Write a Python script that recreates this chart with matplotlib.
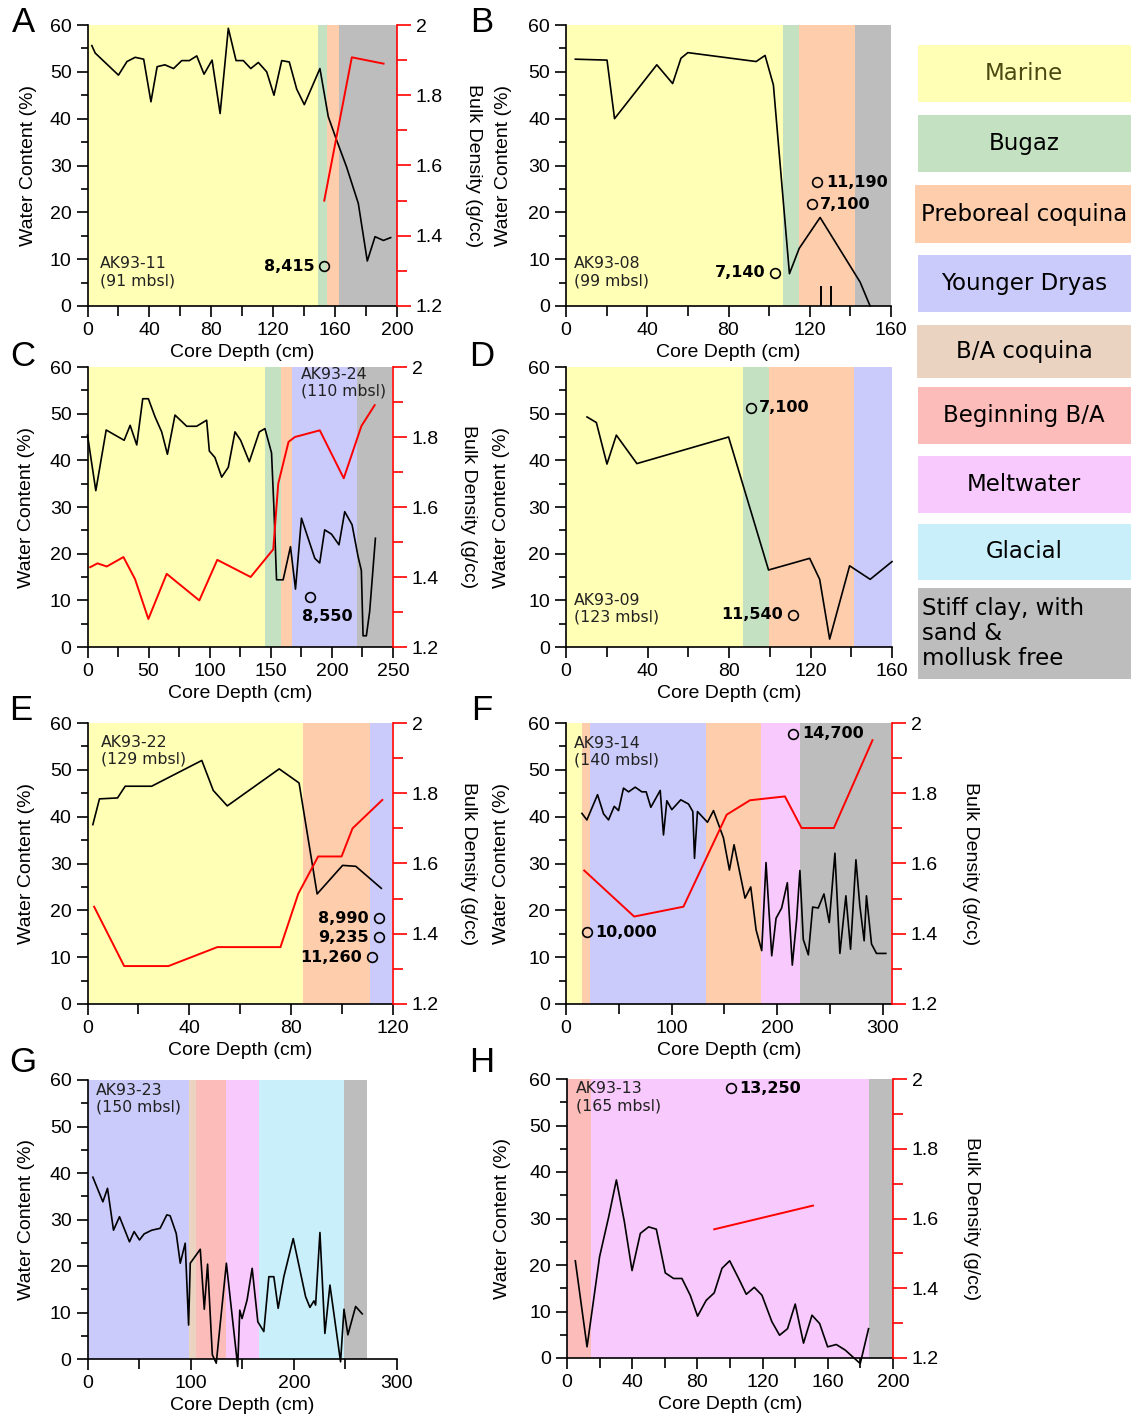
import matplotlib
matplotlib.use("Agg")
import matplotlib.pyplot as plt
from matplotlib.ticker import MultipleLocator, FuncFormatter
from matplotlib.patches import Rectangle

plt.rcParams['font.family'] = ['Liberation Sans', 'DejaVu Sans']

W, H = 1131, 1418

zone_color = {
    "Marine": "#ffffb6",
    "Bugaz": "#c4e2c2",
    "Preboreal": "#fdcdac",
    "YD": "#cbcbfb",
    "BA coquina": "#ead3c0",
    "Beginning BA": "#fbbcba",
    "Meltwater": "#f7c9fc",
    "Glacial": "#c8effa",
    "Stiff": "#bdbdbd",
}
legend_keys = ["Marine", "Bugaz", "Preboreal", "YD", "BA coquina",
               "Beginning BA", "Meltwater", "Glacial", "Stiff"]
legend_labels = ["Marine", "Bugaz", "Preboreal coquina", "Younger Dryas",
                 "B/A coquina", "Beginning B/A", "Meltwater", "Glacial",
                 "Stiff clay, with\nsand &\nmollusk free"]

# ---------------- A: AK93-11 ----------------
a_zones = [("Marine", 0, 148.8), ("Bugaz", 148.8, 155), ("Preboreal", 155, 162.6), ("Stiff", 162.6, 200)]
a_depth = [2.8, 5, 20, 25.5, 30.8, 36.3, 41, 45, 50, 55.6, 60.9, 65.8, 70.6, 75.3, 80.5, 85.7, 91, 96,
           100.7, 105.5, 110.4, 115.8, 120.5, 125.5, 130.4, 135.2, 140.1, 150.2, 155.6, 161, 167.4, 175,
           180.8, 185.8, 191.2, 195.9]
a_water = [55.6, 54, 49.3, 52.2, 53.1, 52.7, 43.6, 51.1, 51.5, 50.7, 52.4, 52.4, 53.4, 49.5, 52.5, 41.1,
           59.3, 52.4, 52.4, 50.7, 52, 50, 45, 52.4, 52.1, 46.3, 43, 50.7, 40.4, 35.4, 29.7, 21.9, 9.6,
           14.8, 14, 14.6]
a_bd_depth = [153, 170.8, 191.3]
a_bd = [1.5, 1.908, 1.89]
a_dates = [(153, 8.5, "8,415")]

# ---------------- B: AK93-08 ----------------
b_zones = [("Marine", 0, 106.7), ("Bugaz", 106.7, 114.9), ("Preboreal", 114.9, 142.3), ("Stiff", 142.3, 160)]
b_depth = [4.6, 20.2, 23.9, 44.7, 52.5, 56.6, 60, 93.6, 98, 102.1, 110, 114.8, 125.1, 144.8, 149.7]
b_water = [52.7, 52.5, 40, 51.5, 47.5, 52.9, 54.1, 52.2, 53.5, 47.2, 6.9, 12.3, 18.9, 5.1, 0]
b_marks = [125.4, 130.3]
b_mark_top = 4.2
b_dates = [(103, 7.1, "7,140"), (121, 21.7, "7,100"), (123.8, 26.4, "11,190")]

# ---------------- C: AK93-24 ----------------
c_zones = [("Marine", 0, 145.4), ("Bugaz", 145.4, 158), ("Preboreal", 158, 167.2), ("YD", 167.2, 220.6),
           ("Stiff", 220.6, 249)]
c_depth = [0, 6.8, 15.3, 22.6, 30, 34.9, 40.3, 45.2, 49.8, 55.3, 60.7, 65.4, 71.6, 81.2, 89.3, 97.5, 99.7,
           104.3, 109.8, 115.2, 120.7, 125.3, 132.4, 140.6, 145.2, 150.6, 152.5, 154.7, 160.1, 166.1, 170.2,
           175.1, 186, 190, 194.1, 199.6, 205.8, 210.5, 216.5, 221.4, 224.1, 225.5, 228.2, 230.9, 235.6]
c_water = [45.4, 33.5, 46.5, 45.4, 44.3, 47.5, 43.3, 53.2, 53.2, 49.3, 46.1, 41.3, 49.7, 47.3, 47.3, 48.6,
           42, 40.6, 36.4, 38.5, 46.1, 44.3, 39.7, 46.1, 46.8, 41.6, 30.1, 14.4, 14.4, 21.5, 12.4, 27.6,
           19, 18, 25.1, 24.2, 21.9, 29, 26.2, 19.4, 16.4, 2.4, 2.4, 7.6, 23.3]
c_bd_depth = [2.2, 8.2, 15.8, 29.4, 38.9, 49.8, 64.8, 91.5, 106.2, 133.5, 152, 156.1, 164.5, 169.7, 190.1,
              209.7, 224.1, 235]
c_bd = [1.428, 1.439, 1.43, 1.457, 1.394, 1.28, 1.409, 1.333, 1.449, 1.4, 1.479, 1.667, 1.786, 1.8, 1.819,
        1.682, 1.831, 1.891]
c_dates = [(182, 10.8, "8,550")]

# ---------------- D: AK93-09 ----------------
d_zones = [("Marine", 0, 86.9), ("Bugaz", 86.9, 99.5), ("Preboreal", 99.5, 141.2), ("YD", 141.2, 160)]
d_depth = [10.3, 14.9, 20.1, 24.7, 34.8, 79.8, 99.4, 119.6, 124.5, 129.4, 139.2, 149.3, 160]
d_water = [49.3, 48.1, 39.2, 45.4, 39.3, 45, 16.5, 19, 14.5, 1.7, 17.4, 14.5, 18.3]
d_dates = [(90.8, 51.3, "7,100"), (111.4, 6.9, "11,540")]

# ---------------- E: AK93-22 ----------------
e_zones = [("Marine", 0, 84.7), ("Preboreal", 84.7, 111.1), ("YD", 111.1, 119.6)]
e_depth = [2.1, 4.7, 11.8, 14.8, 25.2, 44.9, 49.4, 54.9, 75.3, 83.1, 90.2, 100.2, 105.4, 115.4]
e_water = [38.3, 43.8, 44, 46.5, 46.5, 52, 45.6, 42.3, 50.2, 47.2, 23.5, 29.6, 29.4, 24.7]
e_bd_depth = [2.6, 14.4, 31.8, 51, 75.8, 82.8, 90.6, 99.8, 104.1, 115.8]
e_bd = [1.477, 1.308, 1.308, 1.362, 1.362, 1.514, 1.62, 1.62, 1.7, 1.781]
e_dates = [(114.4, 18.3, "8,990"), (114.4, 14.3, "9,235"), (111.8, 10, "11,260")]

# ---------------- F: AK93-14 ----------------
f_zones = [("Marine", 0, 15.1), ("Preboreal", 15.1, 22.4), ("YD", 22.4, 132.8), ("Preboreal", 132.8, 184.8),
           ("Meltwater", 184.8, 221.7), ("Stiff", 221.7, 308.5)]
f_depth = [15.1, 19.8, 29.9, 35.6, 40.3, 45.7, 49.8, 54.5, 59.3, 65.6, 71.9, 76, 80.4, 89.3, 92.4, 95.6,
           100.3, 108.8, 116.1, 120.2, 121.8, 124.6, 134.1, 139.8, 149.2, 154.9, 159.3, 169.7, 175.1,
           180.2, 185.5, 189.6, 195, 199.1, 204.4, 209.8, 214.5, 218.6, 221.7, 224.9, 229.7, 233.8, 239.1,
           244.5, 249.5, 254.9, 259.6, 265.3, 269.7, 274.8, 278.5, 282.6, 284.8, 289.6, 294.3, 303.1]
f_water = [40.7, 39.3, 44.7, 40.6, 39.3, 42.2, 41.3, 46.1, 45.3, 46.3, 45.3, 45.3, 42, 45.6, 36.1, 43.4,
           41.5, 43.6, 42.7, 41.1, 31.1, 41.1, 38.8, 41.3, 35.5, 28.6, 34, 22.6, 25, 15.8, 11.4, 30.2,
           10.3, 18.3, 20.5, 25.9, 8.3, 18, 28.5, 13.8, 10.5, 20.7, 20.5, 23.5, 17.4, 32.2, 10.8, 23.1,
           11.7, 30.8, 21, 13.5, 23.1, 12.8, 10.8, 10.8]
f_bd_depth = [17.3, 64.6, 111.3, 152.3, 174.4, 207.5, 223.3, 253.9, 290.5]
f_bd = [1.58, 1.449, 1.477, 1.739, 1.78, 1.791, 1.701, 1.701, 1.951]
f_dates = [(19.8, 15.3, "10,000"), (215.5, 57.7, "14,700")]

# ---------------- G: AK93-23 ----------------
g_zones = [("YD", 0, 98), ("BA coquina", 98, 105.4), ("Beginning BA", 105.4, 133.9), ("Meltwater", 133.9, 165.9),
           ("Glacial", 165.9, 248.3), ("Stiff", 248.3, 271)]
g_depth = [5.2, 14.9, 19.4, 25.2, 31, 40.7, 45.2, 50.4, 54.9, 62.3, 70.4, 76.9, 80.1, 86, 89.9, 94.7, 98,
           99.6, 109.3, 113.2, 116.4, 121, 124.8, 134.6, 145.6, 147.6, 149.8, 154.7, 159.6, 165.1, 170.9,
           175.8, 180.6, 184.8, 190.3, 199.4, 211.4, 215.6, 219.5, 221.1, 225.3, 230.1, 235, 245.3, 248.6,
           252.4, 259.9, 266.3]
g_water = [39.1, 33.8, 36.7, 27.7, 30.6, 25.2, 27.4, 25.6, 26.9, 27.7, 28.1, 31, 30.8, 27, 20.6, 24.9, 7.3,
           20.6, 23.6, 10.7, 20.4, 0.9, -0.9, 20.6, -1.6, 10.5, 8.7, 12.7, 19.5, 8, 5.9, 17.7, 17.7, 10.9,
           17.7, 25.9, 13.4, 11.1, 12.5, 11.6, 27.2, 5.5, 15.9, -0.6, 10.7, 5.2, 11.3, 9.7]

# ---------------- H: AK93-13 ----------------
h_zones = [("Beginning BA", 0, 14.9), ("Meltwater", 14.9, 185), ("Stiff", 185, 200)]
h_depth = [5.1, 12.3, 20, 25.6, 30.3, 35.2, 39.9, 45, 50.1, 54.8, 60.3, 65.4, 70.5, 75.6, 80.1, 85.4, 90.3,
           95.1, 99.8, 105.3, 110, 114.9, 119.6, 125.7, 130.4, 135.3, 140, 145.1, 150.3, 155, 159.9, 165.2,
           170.7, 179.9, 185]
h_water = [20.9, 2.4, 21.8, 30.4, 38.3, 29.3, 18.8, 26.8, 28.2, 27.7, 18.3, 17.1, 17.1, 13.5, 9, 12.4, 14,
           19.3, 20.9, 17.1, 13.7, 15.2, 13.5, 7.8, 4.9, 6.3, 11.6, 3.2, 9.2, 7.4, 2.4, 2.9, 1.7, -1.2, 6.3]
h_bd_depth = [90.3, 150.9]
h_bd = [1.569, 1.637]
h_dates = [(100.8, 58, "13,250")]

fig = plt.figure(figsize=(W / 100, H / 100), dpi=100)
ann_font = ['DejaVu Sans']


def px_axes(left, right, top, bottom):
    return fig.add_axes([left / W, 1 - bottom / H, (right - left) / W, (bottom - top) / H])


def panel(box, letter, letter_xy, xmax, xmaj, zones, depth, water, core, core_xy,
          bd_depth=None, bd=None, dates=(), sides=(), twin=False, ylab_x=-0.17, bd_lab_x=1.22):
    ax = px_axes(*box)
    for key, x0, x1 in zones:
        ax.axvspan(x0, x1, color=zone_color[key], lw=0, zorder=0)
    ax.plot(depth, water, color='black', lw=1.2, zorder=3, clip_on=False)
    ax.set_xlim(0, xmax)
    ax.set_ylim(0, 60)
    ax.xaxis.set_major_locator(MultipleLocator(xmaj))
    ax.xaxis.set_minor_locator(MultipleLocator(xmaj / 2))
    ax.yaxis.set_major_locator(MultipleLocator(10))
    ax.yaxis.set_minor_locator(MultipleLocator(5))
    ax.tick_params(which='both', direction='out', width=1.2, labelsize=14)
    ax.tick_params(which='major', length=8)
    ax.tick_params(axis='y', which='minor', length=5)
    ax.tick_params(axis='x', which='minor', length=7)
    ax.spines['top'].set_visible(False)
    ax.spines['right'].set_visible(False)
    for s in ('left', 'bottom'):
        ax.spines[s].set_linewidth(1.2)
    ax.set_xlabel("Core Depth (cm)", fontsize=14)
    ax.xaxis.set_label_coords(0.5, -0.137)
    ax.set_ylabel("Water Content (%)", fontsize=14)
    ax.yaxis.set_label_coords(ylab_x, 0.5)
    ax.text(core_xy[0], core_xy[1], core, fontsize=11.3, family=ann_font, va='top', ha='left',
            linespacing=1.15, color='#222222', zorder=4)
    for (x, y, lab), side in zip(dates, sides):
        ax.plot([x], [y], 'o', ms=7, mfc='none', mec='black', mew=1.2, zorder=4, clip_on=False)
        if side == 'right':
            off, ha, va = (6, 0), 'left', 'center'
        elif side == 'left':
            off, ha, va = (-7, 0), 'right', 'center'
        else:
            off, ha, va = (-6, -14), 'left', 'center'
        ax.annotate(lab, (x, y), xytext=off, textcoords='offset points', ha=ha, va=va,
                    fontsize=11.5, fontweight='bold', family=ann_font, zorder=5)
    if twin:
        ax2 = ax.twinx()
        if bd is not None:
            ax2.plot(bd_depth, bd, color='red', lw=1.4, zorder=3)
        ax2.set_ylim(1.2, 2.0)
        ax2.yaxis.set_major_locator(MultipleLocator(0.2))
        ax2.yaxis.set_minor_locator(MultipleLocator(0.1))
        ax2.yaxis.set_major_formatter(FuncFormatter(lambda v, p: f"{v:g}"))
        ax2.tick_params(which='both', direction='out', color='red', width=1.2, labelsize=14)
        ax2.tick_params(which='major', length=10)
        ax2.tick_params(which='minor', length=7)
        for s in ('top', 'left', 'bottom'):
            ax2.spines[s].set_visible(False)
        ax2.spines['right'].set_color('red')
        ax2.spines['right'].set_linewidth(1.2)
        ax2.set_ylabel("Bulk Density (g/cc)", fontsize=14, rotation=270, va='bottom')
        ax2.yaxis.set_label_coords(bd_lab_x, 0.5)
    fig.text(letter_xy[0] / W, 1 - letter_xy[1] / H, letter, fontsize=25, ha='center', va='center')
    return ax


panel((87.5, 397, 25, 306), "A", (23, 22), 200, 40, a_zones, a_depth, a_water,
      "AK93-11\n(91 mbsl)", (8.2, 10.6), a_bd_depth, a_bd, a_dates, ["left"], twin=True,
      ylab_x=-0.163, bd_lab_x=1.22)
axb = panel((566, 891, 25, 306), "B", (482, 22), 160, 40, b_zones, b_depth, b_water,
            "AK93-08\n(99 mbsl)", (4.1, 10.6), dates=b_dates, sides=["left", "right", "right"],
            ylab_x=-0.166)
axb.vlines(b_marks, 0, b_mark_top, color='black', lw=1.4, zorder=3)
panel((87.5, 393, 367, 647), "C", (23, 357), 250, 50, c_zones, c_depth, c_water,
      "AK93-24\n(110 mbsl)", (175, 60), c_bd_depth, c_bd, c_dates, ["below"], twin=True,
      ylab_x=-0.172, bd_lab_x=1.219)
panel((566, 892, 367, 647), "D", (482, 357), 160, 40, d_zones, d_depth, d_water,
      "AK93-09\n(123 mbsl)", (3.7, 11.6), dates=d_dates, sides=["right", "left"], ylab_x=-0.172)
panel((87.5, 393, 723, 1004), "E", (21, 711), 120, 40, e_zones, e_depth, e_water,
      "AK93-22\n(129 mbsl)", (5.2, 57.4), e_bd_depth, e_bd, e_dates, ["left"] * 3, twin=True,
      ylab_x=-0.172, bd_lab_x=1.219)
panel((566, 892, 723, 1004), "F", (482, 711), 309, 100, f_zones, f_depth, f_water,
      "AK93-14\n(140 mbsl)", (7.8, 57.2), f_bd_depth, f_bd, f_dates, ["right", "right"], twin=True,
      ylab_x=-0.172, bd_lab_x=1.214)
panel((87.5, 397, 1080, 1359), "G", (23, 1062), 300, 100, g_zones, g_depth, g_water,
      "AK93-23\n(150 mbsl)", (8.3, 59.4), ylab_x=-0.17)
panel((567, 893, 1079, 1358), "H", (482, 1062), 200, 40, h_zones, h_depth, h_water,
      "AK93-13\n(165 mbsl)", (5.5, 59.5), h_bd_depth, h_bd, h_dates, ["right"], twin=True,
      ylab_x=-0.172, bd_lab_x=1.215)

# legend column on the right
leg = px_axes(905, 1131, 30, 690)
leg.set_xlim(905, 1131)
leg.set_ylim(690, 30)
leg.axis('off')
box_tops = [45, 115, 185, 255, 325, 387, 456, 524, 588]
box_bottoms = [102, 172, 243, 312, 378, 444, 513, 580, 679]
box_lefts = [918, 918, 915, 918, 917, 918, 918, 918, 918]
for key, lab, t, b, l in zip(legend_keys, legend_labels, box_tops, box_bottoms, box_lefts):
    leg.add_patch(Rectangle((l, t), 1131 - l, b - t, color=zone_color[key], lw=0))
    if key == "Stiff":
        leg.text(922, (t + b) / 2, lab, ha='left', va='center', fontsize=16.5, family=ann_font,
                 linespacing=1.12)
    else:
        leg.text(1024, (t + b) / 2, lab, ha='center', va='center', fontsize=16.5, family=ann_font,
                 color='#4a4a12' if key == "Marine" else 'black')

fig.savefig("out.png", dpi=100)
